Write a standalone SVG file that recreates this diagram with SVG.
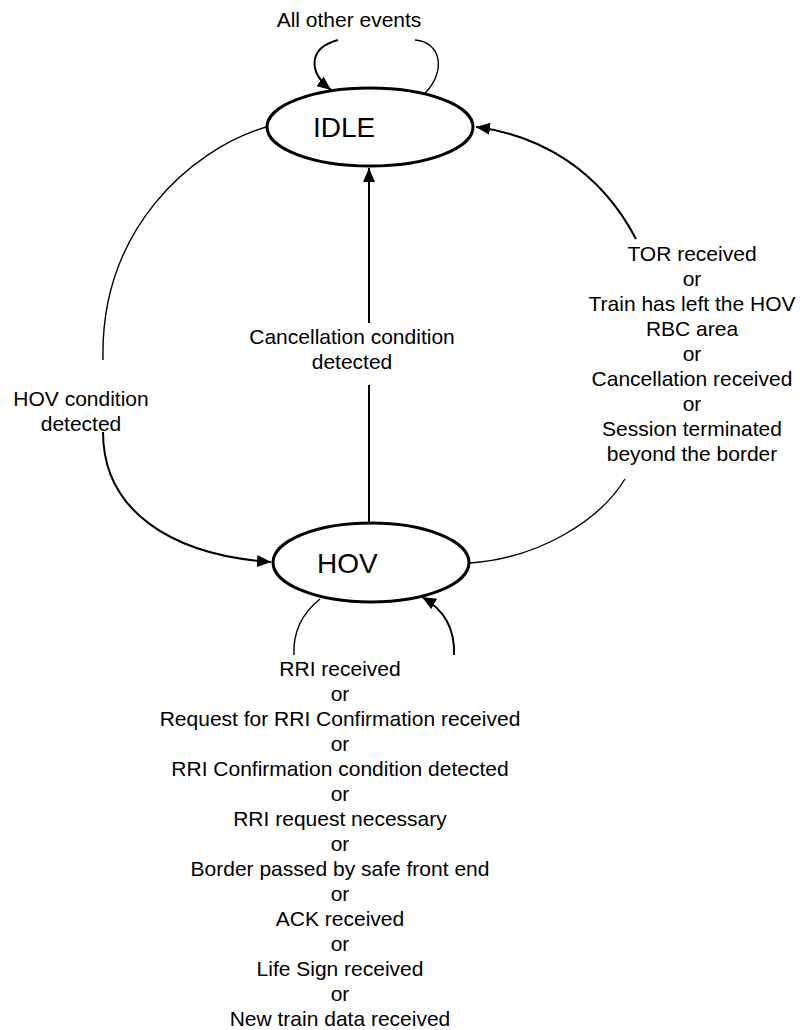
<svg xmlns="http://www.w3.org/2000/svg" width="802" height="1030" viewBox="0 0 802 1030">
<style>
.state{fill:#fff;stroke:#000;stroke-width:3}
.sname{font-family:"Liberation Sans",Arial,sans-serif;font-size:28px;fill:#000}
.lbl{font-family:"Liberation Sans",Arial,sans-serif;font-size:21px;fill:#000;text-anchor:middle}
.thin{fill:none;stroke:#000;stroke-width:1.4}
.thick{fill:none;stroke:#000;stroke-width:2}
</style>
<defs>
<marker id="arr" markerUnits="userSpaceOnUse" markerWidth="15" markerHeight="12" refX="14" refY="6" orient="auto" viewBox="0 0 15 12">
<path d="M0,0 L14,6 L0,12 z" fill="#000"/>
</marker>
</defs>
<rect width="802" height="1030" fill="#fff"/>
<g id="connectors">
<path class="thin" d="M425,93 C446,72 442,42 415,40"/>
<path class="thick" d="M338,40 C308,48 308,72 331,90" marker-end="url(#arr)"/>
<path class="thick" d="M369,523 L369,385"/>
<path class="thick" d="M369,323 L369,168" marker-end="url(#arr)"/>
<path class="thin" d="M266,127 C190,150 100,230 103,360"/>
<path class="thick" d="M103,432 C103,510 170,555 271,562" marker-end="url(#arr)"/>
<path class="thin" d="M470,563 C540,558 600,520 625,479"/>
<path class="thick" d="M636,239 C600,170 540,135 476,127" marker-end="url(#arr)"/>
<path class="thin" d="M320,599 C300,615 293,635 294,655"/>
<path class="thick" d="M454,655 C455,630 445,610 422,597" marker-end="url(#arr)"/>
</g>
<g id="IDLE">
<ellipse class="state" cx="370" cy="127" rx="103" ry="39"/>
<text class="sname" x="313" y="137">IDLE</text>
</g>
<g id="HOV">
<ellipse class="state" cx="371" cy="562.5" rx="98" ry="39.5"/>
<text class="sname" x="317" y="573">HOV</text>
</g>
<g id="labels">
<text class="lbl" x="349" y="27">All other events</text>
<text class="lbl" x="352" y="344">Cancellation condition</text>
<text class="lbl" x="352" y="369">detected</text>
<text class="lbl" x="81" y="406">HOV condition</text>
<text class="lbl" x="81" y="431">detected</text>
<text class="lbl" x="692" y="261">TOR received</text>
<text class="lbl" x="692" y="286">or</text>
<text class="lbl" x="692" y="311">Train has left the HOV</text>
<text class="lbl" x="692" y="336">RBC area</text>
<text class="lbl" x="692" y="361">or</text>
<text class="lbl" x="692" y="386">Cancellation received</text>
<text class="lbl" x="692" y="411">or</text>
<text class="lbl" x="692" y="436">Session terminated</text>
<text class="lbl" x="692" y="461">beyond the border</text>
<text class="lbl" x="340" y="676">RRI received</text>
<text class="lbl" x="340" y="701">or</text>
<text class="lbl" x="340" y="726">Request for RRI Confirmation received</text>
<text class="lbl" x="340" y="751">or</text>
<text class="lbl" x="340" y="776">RRI Confirmation condition detected</text>
<text class="lbl" x="340" y="801">or</text>
<text class="lbl" x="340" y="826">RRI request necessary</text>
<text class="lbl" x="340" y="851">or</text>
<text class="lbl" x="340" y="876">Border passed by safe front end</text>
<text class="lbl" x="340" y="901">or</text>
<text class="lbl" x="340" y="926">ACK received</text>
<text class="lbl" x="340" y="951">or</text>
<text class="lbl" x="340" y="976">Life Sign received</text>
<text class="lbl" x="340" y="1001">or</text>
<text class="lbl" x="340" y="1026">New train data received</text>
</g>
</svg>
